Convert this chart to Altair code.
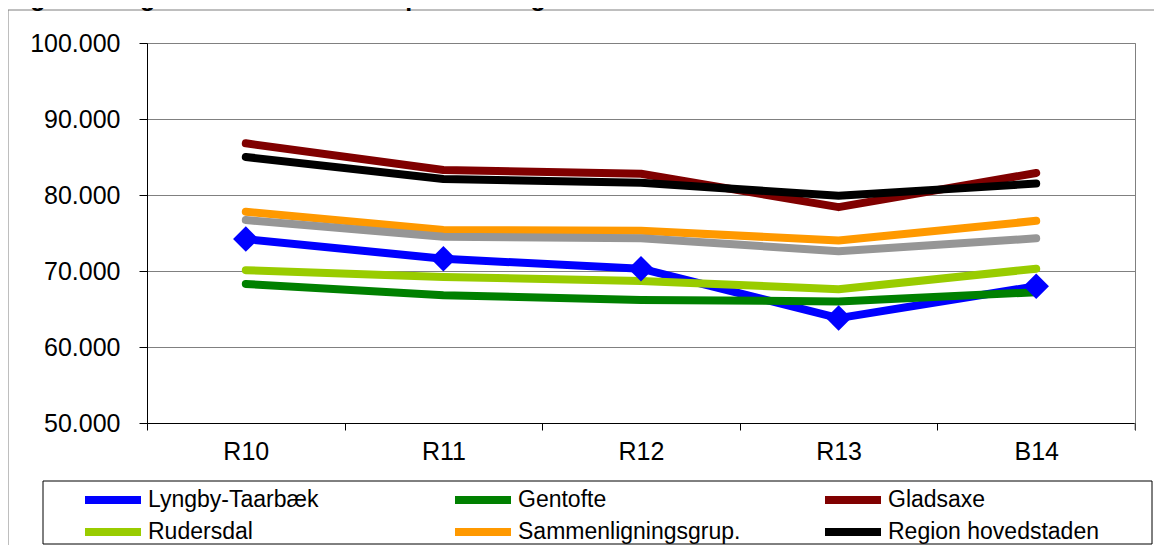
import altair as alt
import pandas as pd

years = ["R10", "R11", "R12", "R13", "B14"]
series = ["Lyngby-Taarbæk", "Gentofte", "Gladsaxe", "Rudersdal",
          "Sammenligningsgrup.", "Region hovedstaden", "Hele landet"]
lyngby = [74200, 71600, 70300, 63800, 68000]
gentofte = [68300, 66800, 66200, 66000, 67200]
gladsaxe = [86800, 83300, 82800, 78400, 82900]
rudersdal = [70100, 69200, 68700, 67600, 70300]
sammen = [77800, 75400, 75300, 74000, 76600]
region = [85000, 82100, 81600, 79900, 81500]
landet = [76700, 74500, 74300, 72600, 74300]
colors = ["#0000FF", "#008000", "#800000", "#99CC00", "#FF9900", "#000000", "#969696"]
legend_items = series[:6]
title_text = "Figur 3: Udgifter til skoler i alt kr. pr. 6-16 årige"

values = [lyngby, gentofte, gladsaxe, rudersdal, sammen, region, landet]
rows = []
for name, vals in zip(series, values):
    for yr, v in zip(years, vals):
        rows.append({"aar": yr, "serie": name, "kr": v})
df = pd.DataFrame(rows)

W, H = 988, 380
FONT = "Liberation Sans"

x_enc = alt.X("aar:N", sort=years, bandPosition=0.5,
              scale=alt.Scale(type="band", paddingInner=0, paddingOuter=0),
              axis=alt.Axis(title=None, labelAngle=0, labelFontSize=25, labelFont=FONT,
                            labelColor="black", tickBand="extent", tickColor="black",
                            tickSize=7, domainColor="black", labelPadding=9, grid=False))
y_enc = alt.Y("kr:Q",
              scale=alt.Scale(domain=[50000, 100000], nice=False, zero=False),
              axis=alt.Axis(title=None, values=[50000, 60000, 70000, 80000, 90000, 100000],
                            labelExpr="replace(format(datum.value, ','), ',', '.')",
                            labelFontSize=25, labelFont=FONT, labelColor="black",
                            tickColor="black", tickSize=8, labelPadding=19,
                            domainColor="black", gridColor="#808080", grid=True))

color_enc = alt.Color("serie:N",
                      scale=alt.Scale(domain=series, range=colors),
                      legend=alt.Legend(values=legend_items, title=None, orient="none",
                                        direction="horizontal",
                                        legendX=-30, legendY=443, columns=3,
                                        gridAlign="all", columnPadding=68, rowPadding=0,
                                        symbolType="M-4.6,0L1,0", symbolSize=400,
                                        symbolStrokeWidth=8, labelFontSize=23,
                                        labelFont=FONT, labelColor="black",
                                        labelOffset=3, padding=0, labelLimit=400))

base = alt.Chart(df)
lines = base.mark_line(strokeWidth=8, strokeCap="round", strokeJoin="round").encode(
    x=x_enc, y=y_enc, color=color_enc)
points = base.transform_filter(alt.datum.serie == "Lyngby-Taarbæk").mark_point(
    shape="diamond", filled=True, size=650, opacity=1, color="#0000FF").encode(
    x=alt.X("aar:N", sort=years, bandPosition=0.5), y="kr:Q")

one = pd.DataFrame({"t": [title_text]})
frame = alt.Chart(one).mark_rect(fill=None, stroke="#7f7f7f", strokeWidth=1).encode(
    x=alt.value(-139), x2=alt.value(1020), y=alt.value(-33), y2=alt.value(520))
legend_box = alt.Chart(one).mark_rect(fill="white", stroke="black", strokeWidth=1).encode(
    x=alt.value(-104), x2=alt.value(1005), y=alt.value(438), y2=alt.value(501))
right_tick = alt.Chart(one).mark_rule(color="#808080").encode(
    x=alt.value(W), y=alt.value(H), y2=alt.value(H + 7))
title = alt.Chart(one).mark_text(align="left", baseline="alphabetic", fontSize=25,
                                 fontWeight="bold", font=FONT, color="black").encode(
    x=alt.value(-139), y=alt.value(-37), text="t:N")

chart = alt.layer(frame, legend_box, title, right_tick, lines, points).properties(
    width=W, height=H,
    autosize=alt.AutoSizeParams(type="none"),
    padding={"left": 139, "top": 35, "right": 19, "bottom": 122},
    background="white",
).configure_view(stroke="#808080", strokeWidth=1)

chart.save("out.html", embed_options={"renderer": "svg", "actions": False})
